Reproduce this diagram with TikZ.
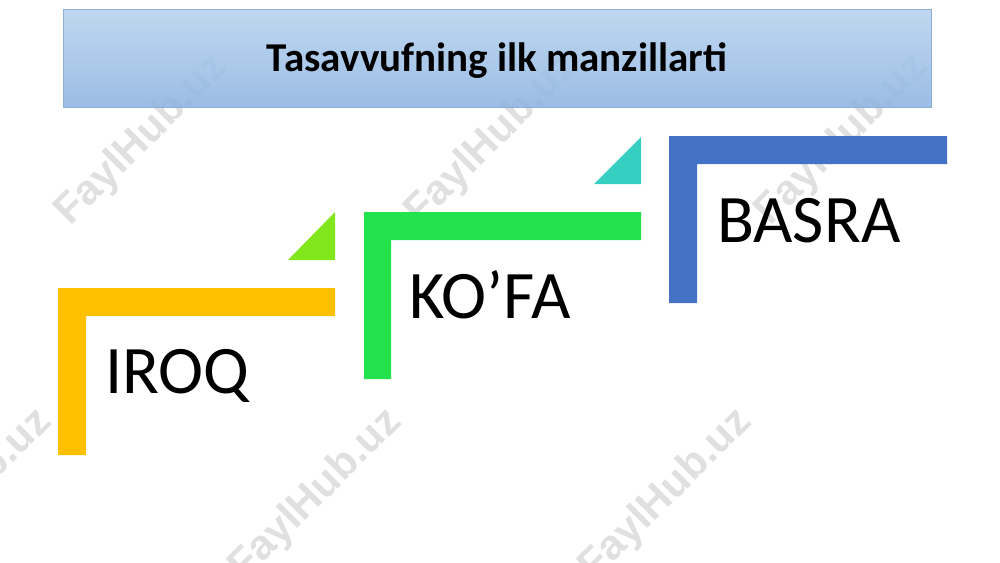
\documentclass[tikz,border=0pt]{standalone}
\usepackage{fontspec}
\setmainfont{Carlito}
\newfontfamily\wmfont{Liberation Sans}
\definecolor{titletop}{HTML}{B7D2EE}
\definecolor{titlebot}{HTML}{8DB4E1}
\definecolor{titleedge}{HTML}{8FAED6}
\definecolor{cyellow}{HTML}{FFC000}
\definecolor{cgreen}{HTML}{24E24C}
\definecolor{clime}{HTML}{82E61C}
\definecolor{cteal}{HTML}{35CFC2}
\definecolor{cblue}{HTML}{4472C4}
\definecolor{wmark}{HTML}{E0E0E0}
\tikzset{
  wm/.style={text=wmark, font=\wmfont\bfseries\fontsize{42}{42}\selectfont, rotate=45, inner sep=0pt},
  lbl/.style={anchor=base west, inner sep=0pt, font=\fontsize{68}{68}\selectfont},
}
\begin{document}
\begin{tikzpicture}[x=1pt,y=-1pt]
\useasboundingbox (0,0) rectangle (1000,562);
% watermarks
\node[wm] (w1) at (142,140) {FaylHub.uz};
\node[wm] (w2) at (492,140) {FaylHub.uz};
\node[wm] (w3) at (842,140) {FaylHub.uz};
\node[wm] (w4) at (-34,495) {FaylHub.uz};
\node[wm] (w5) at (316,495) {FaylHub.uz};
\node[wm] (w6) at (666,495) {FaylHub.uz};
% title
\shade[top color=titletop, bottom color=titlebot, opacity=0.88] (63,9) rectangle (931,107);
\draw[titleedge, line width=0.8pt] (63,9) rectangle (931,107);
\node[font=\bfseries\fontsize{41}{41}\selectfont, anchor=base] (title) at (497,71) {Tasavvufning ilk manzillarti};
% yellow step
\fill[cyellow] (58,288) -- (335,288) -- (335,316) -- (86,316) -- (86,455) -- (58,455) -- cycle;
\fill[clime] (288,260) -- (335,260) -- (335,212) -- cycle;
% green step
\fill[cgreen] (364,212) -- (641,212) -- (641,240) -- (391,240) -- (391,379) -- (364,379) -- cycle;
\fill[cteal] (594,184) -- (641,184) -- (641,137) -- cycle;
% blue step
\fill[cblue] (669,136) -- (947,136) -- (947,164) -- (697,164) -- (697,303) -- (669,303) -- cycle;
% labels
\node[lbl] (iroq) at (105,393) {IROQ};
\node[lbl] (kofa) at (409,318) {KO’FA};
\node[lbl] (basra) at (717,242) {BASRA};
\end{tikzpicture}
\end{document}
